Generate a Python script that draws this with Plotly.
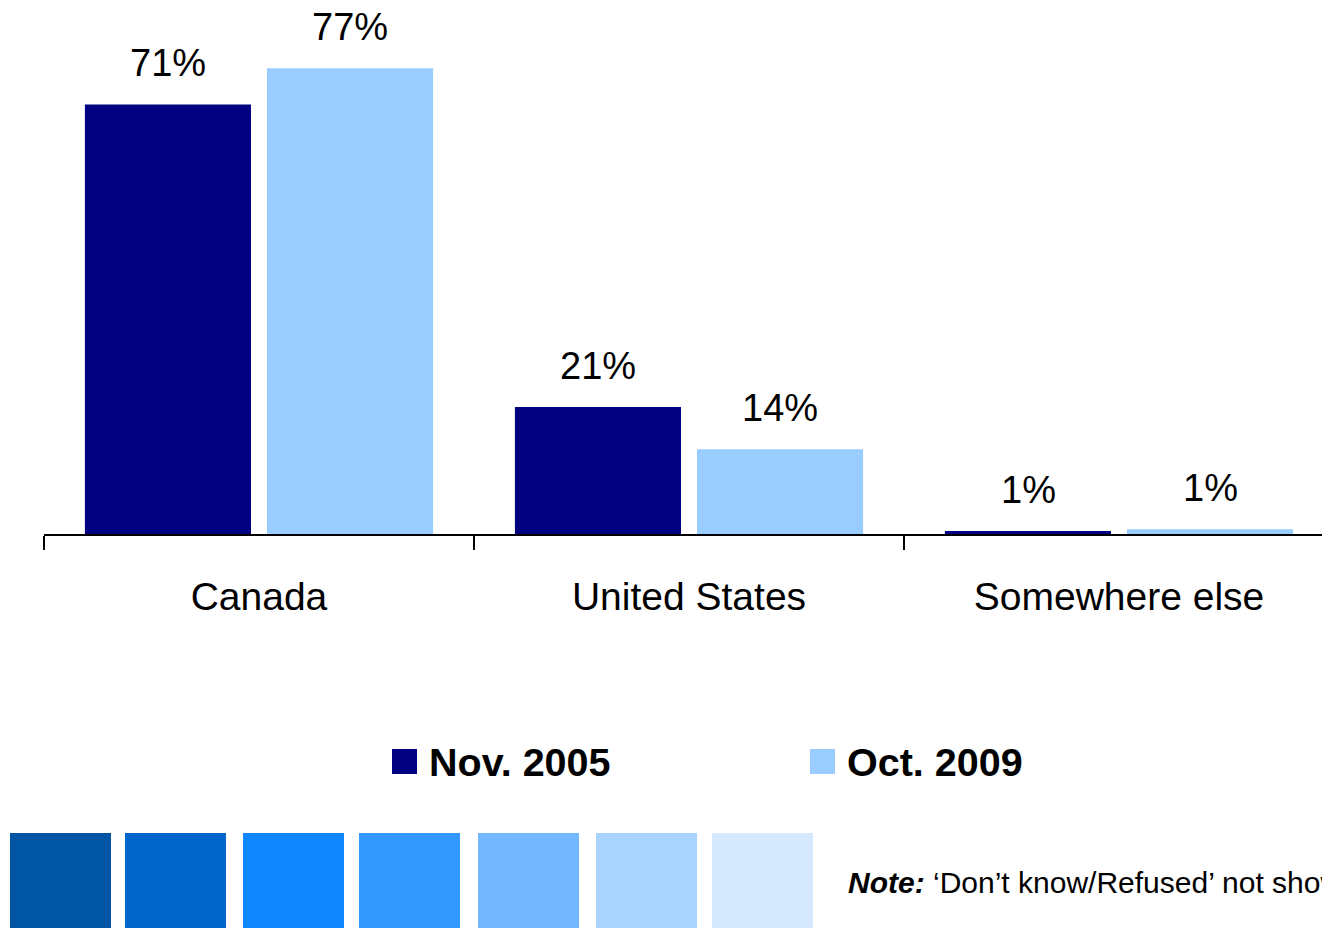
import plotly.graph_objects as go

categories = ["Canada", "United States", "Somewhere else"]
series_names = ["Nov. 2005", "Oct. 2009"]
nov2005 = [71, 21, 0.5]
oct2009 = [77, 14, 0.8]
nov2005_labels = ["71%", "21%", "1%"]
oct2009_labels = ["77%", "14%", "1%"]
series_colors = ["#000080", "#99CCFF"]
swatch_colors = ["#0055A5", "#0066CC", "#1086FF", "#3399FF", "#73B8FF", "#A8D4FF", "#D6E9FF"]
note_bold = "Note:"
note_text = " \u2018Don\u2019t know/Refused\u2019 not shown"

W, H = 1322, 928
L, R, T, B = 44, 0, 0, 394
PW, PH = W - L - R, H - T - B
FONT = "Liberation Sans, Arial, Helvetica, sans-serif"


def px(x):
    return (x - L) / PW


def py(y):
    return (H - B - y) / PH


fig = go.Figure()
for name, vals, col in zip(series_names, [nov2005, oct2009], series_colors):
    fig.add_trace(go.Bar(x=categories, y=vals, name=name, marker=dict(color=col, line=dict(width=0)),
                         showlegend=False, hoverinfo="skip"))

annotations = []
for i, cat in enumerate(categories):
    for vals, labs, shift in [(nov2005, nov2005_labels, -91), (oct2009, oct2009_labels, 91)]:
        annotations.append(dict(x=cat, y=vals[i], xref="x", yref="y", text=labs[i], showarrow=False,
                                xshift=shift, yanchor="bottom", yshift=18,
                                font=dict(family=FONT, size=38, color="black")))

shapes = []
# manual legend
leg_x = [392, 810]
for name, col, lx in zip(series_names, series_colors, leg_x):
    shapes.append(dict(type="rect", xref="paper", yref="paper", x0=px(lx), x1=px(lx + 25),
                       y0=py(774), y1=py(749), fillcolor=col, line=dict(width=0)))
    annotations.append(dict(x=px(lx + 35), y=py(762), xref="paper", yref="paper", text="<b>" + name + "</b>",
                            showarrow=False, xanchor="left", yanchor="middle",
                            font=dict(family=FONT, size=39.5, color="black")))

# decorative swatches
sw_x = [10, 125, 243, 359, 478, 596, 712]
for col, sx in zip(swatch_colors, sw_x):
    shapes.append(dict(type="rect", xref="paper", yref="paper", x0=px(sx), x1=px(sx + 101),
                       y0=py(928), y1=py(833), fillcolor=col, line=dict(width=0)))

annotations.append(dict(x=px(846), y=py(882), xref="paper", yref="paper",
                        text="<b><i>" + note_bold + "</i></b>" + note_text, showarrow=False,
                        xanchor="left", yanchor="middle", font=dict(family=FONT, size=30, color="black")))

fig.update_layout(
    width=W, height=H, margin=dict(l=L, r=R, t=T, b=B, pad=0),
    paper_bgcolor="white", plot_bgcolor="white",
    barmode="group", bargap=0.153, bargroupgap=0.088,
    xaxis=dict(range=[-0.5, -0.5 + PW / 430], showline=True, linecolor="black", linewidth=1.5,
               ticks="outside", tickson="boundaries", ticklen=14, tickwidth=1.5, tickcolor="black",
               showgrid=False, tickfont=dict(family=FONT, size=39, color="black"), ticklabelstandoff=28,
               fixedrange=True),
    yaxis=dict(range=[0, 534 / 6.05], visible=False, showgrid=False, zeroline=False, fixedrange=True),
    shapes=shapes, annotations=annotations, showlegend=False, hovermode=False,
)
fig.write_html("out.html", config={"displayModeBar": False, "staticPlot": True},
               post_script="document.body.style.margin='0';document.body.style.overflow='hidden';")
